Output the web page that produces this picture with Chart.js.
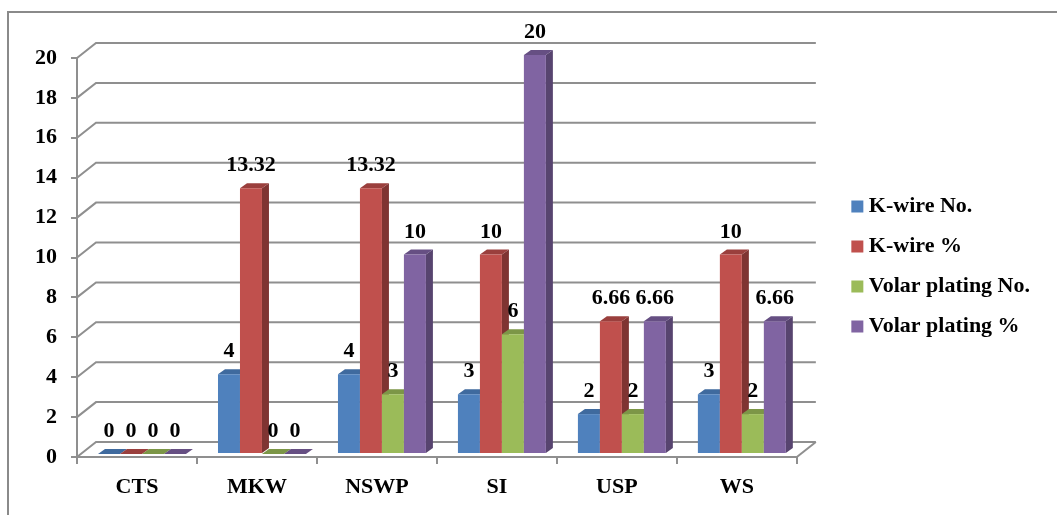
<!DOCTYPE html>
<html>
<head>
<meta charset="utf-8">
<script src="https://cdn.jsdelivr.net/npm/chart.js@4"></script>
<style>
    html, body { margin: 0; padding: 0; background: #fff; overflow: hidden; }
    #wrap { position: relative; width: 1057px; height: 515px; }
    #frame { position: absolute; left: 7px; top: 11px; right: 0; bottom: 0; border-left: 2px solid #8a8a8a; border-top: 2px solid #8a8a8a; }
    canvas { position: absolute; left: 0; top: 0; filter: blur(0.4px); }
</style>
</head>
<body>
<div id="wrap">
    <div id="frame"></div>
    <canvas id="chart" width="1057" height="515"></canvas>
</div>
<script>
const categories = ['CTS', 'MKW', 'NSWP', 'SI', 'USP', 'WS'];
const seriesNames = ['K-wire No.', 'K-wire %', 'Volar plating No.', 'Volar plating %'];
const kwireNo = [0, 4, 4, 3, 2, 3];
const kwirePct = [0, 13.32, 13.32, 10, 6.66, 10];
const volarNo = [0, 0, 3, 6, 2, 2];
const volarPct = [0, 0, 10, 20, 6.66, 6.66];

const colors = ['#4F81BD', '#C0504D', '#9BBB59', '#8064A2'];
const sideColors = ['#3A5F8C', '#7F3432', '#728A41', '#57446F'];
const topColors = ['#3F6A9E', '#9A3F3D', '#7C9647', '#664F83'];

const GRID = '#8f8f8f';
const FONT = 'bold 22px "Liberation Serif"';

// 3D look: wall offset, bar offset from the floor, bar depth
const wall = { dx: 19, dy: -15 };
const shift = { dx: 5, dy: -3 };
const depth = { dx: 7, dy: -5 };

function poly(ctx, pts, fill) {
    ctx.fillStyle = fill;
    ctx.beginPath();
    pts.forEach(function (p, i) {
        if (i === 0) ctx.moveTo(p[0], p[1]);
        else ctx.lineTo(p[0], p[1]);
    });
    ctx.closePath();
    ctx.fill();
}

const bars3d = {
    id: 'bars3d',
    afterLayout(chart) {
        // legend sits further right than the layout would put it
        chart.legend.left += 42;
        chart.legend.right += 42;
        chart.legend.top -= 20;
        chart.legend.bottom -= 20;
    },
    beforeDatasetsDraw(chart) {
        const ctx = chart.ctx;
        const y = chart.scales.y;
        const area = chart.chartArea;

        // walls and floor
        ctx.save();
        ctx.strokeStyle = GRID;
        ctx.lineWidth = 2;
        y.ticks.forEach(function (t) {
            const py = y.getPixelForValue(t.value);
            ctx.beginPath();
            ctx.moveTo(area.left, py);
            ctx.lineTo(area.left + wall.dx, py + wall.dy);
            ctx.lineTo(area.right + wall.dx, py + wall.dy);
            ctx.stroke();
        });
        ctx.beginPath();
        ctx.moveTo(area.right, area.bottom);
        ctx.lineTo(area.right + wall.dx, area.bottom + wall.dy);
        ctx.stroke();
        ctx.restore();

        // bars left to right so each front covers the side before it
        ctx.save();
        ctx.translate(shift.dx, shift.dy);
        chart.data.datasets.forEach(function (ds, i) {
            chart.getDatasetMeta(i).data.forEach(function (bar) {
                const l = bar.x - bar.width / 2;
                const r = bar.x + bar.width / 2;
                poly(ctx, [[r, bar.y], [r + depth.dx, bar.y + depth.dy], [r + depth.dx, bar.base + depth.dy], [r, bar.base]], sideColors[i]);
                poly(ctx, [[l, bar.y], [l + depth.dx, bar.y + depth.dy], [r + depth.dx, bar.y + depth.dy], [r, bar.y]], topColors[i]);
                bar.draw(ctx);
            });
        });
        ctx.restore();
    },
    beforeDatasetDraw() {
        return false;
    },
    afterDatasetsDraw(chart) {
        const ctx = chart.ctx;
        ctx.save();
        ctx.font = FONT;
        ctx.fillStyle = '#000';
        ctx.textAlign = 'center';
        ctx.textBaseline = 'alphabetic';
        chart.data.datasets.forEach(function (ds, i) {
            chart.getDatasetMeta(i).data.forEach(function (bar, j) {
                ctx.fillText(String(ds.data[j]), bar.x + shift.dx, bar.y + shift.dy - 17);
            });
        });
        ctx.restore();
    }
};

const seriesValues = [kwireNo, kwirePct, volarNo, volarPct];

new Chart(document.getElementById('chart'), {
    type: 'bar',
    data: {
        labels: categories,
        datasets: seriesNames.map(function (name, i) {
            return {
                label: name,
                data: seriesValues[i],
                backgroundColor: colors[i],
                borderWidth: 0,
                categoryPercentage: 0.733,
                barPercentage: 1
            };
        })
    },
    plugins: [bars3d],
    options: {
        responsive: false,
        animation: false,
        layout: { padding: { top: 58, right: 59, bottom: 0, left: 0 } },
        plugins: {
            title: { display: false },
            tooltip: { enabled: false },
            legend: {
                position: 'right',
                labels: {
                    color: '#000',
                    font: { family: 'Liberation Serif', size: 22, weight: 'bold' },
                    usePointStyle: true,
                    pointStyle: 'rect',
                    boxWidth: 1,
                    boxHeight: 12,
                    padding: 18
                }
            }
        },
        scales: {
            x: {
                grid: { drawOnChartArea: false, color: GRID, lineWidth: 2, tickLength: 7 },
                border: { color: GRID, width: 2 },
                ticks: { color: '#000', font: { family: 'Liberation Serif', size: 22, weight: 'bold' }, padding: 10, maxRotation: 0 },
                afterFit(scale) { scale.height = 58; }
            },
            y: {
                min: 0,
                max: 20,
                grid: { drawOnChartArea: false, color: GRID, lineWidth: 2, tickLength: 6 },
                border: { color: GRID, width: 2 },
                ticks: { stepSize: 2, color: '#000', font: { family: 'Liberation Serif', size: 22, weight: 'bold' }, padding: 14 },
                afterFit(scale) { scale.width = 77; }
            }
        }
    }
});
</script>
</body>
</html>
